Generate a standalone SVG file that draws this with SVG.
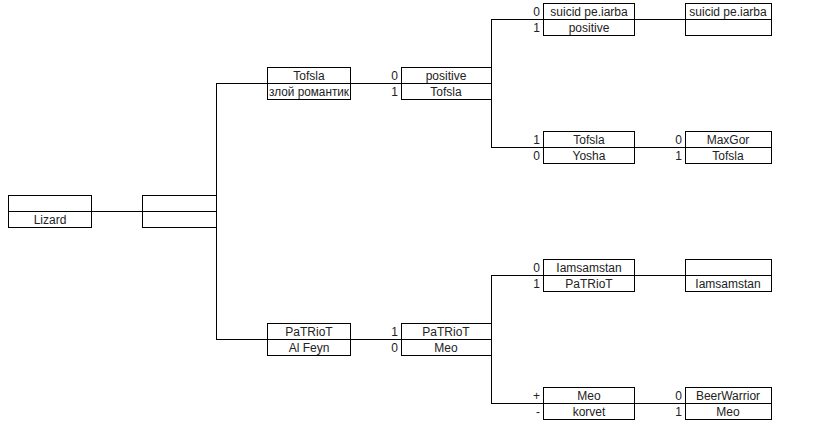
<svg xmlns="http://www.w3.org/2000/svg" width="813" height="429" viewBox="0 0 813 429">
<style>
.b{fill:#fff;stroke:#000;stroke-width:1}
.d{stroke:#000;stroke-width:1}
.c{fill:none;stroke:#000;stroke-width:1}
text{font-family:"Liberation Sans",Arial,sans-serif;font-size:12px;fill:#222}
.m{text-anchor:middle}
.r{text-anchor:end}
</style>
<rect width="813" height="429" fill="#fff"/>
<g id="connectors">
<path class="c" d="M91 211.5H142"/>
<path class="c" d="M216.5 83V339M216 83.5H267M216 339.5H267"/>
<path class="c" d="M350 83.5H401M350 339.5H401"/>
<path class="c" d="M491.5 19V147M491 19.5H543M491 147.5H543"/>
<path class="c" d="M491.5 275V403M491 275.5H543M491 403.5H543"/>
<path class="c" d="M634 19.5H685M634 147.5H685M634 275.5H685M634 403.5H685"/>
</g>
<g id="lizard">
<rect class="b" x="8.5" y="195.5" width="83" height="32"/><path class="d" d="M8 211.5H91"/>
<text class="m" x="50" y="224">Lizard</text>
</g>
<g id="root">
<rect class="b" x="142.5" y="195.5" width="74" height="32"/><path class="d" d="M142 211.5H216"/>
</g>
<g id="semi-top">
<rect class="b" x="267.5" y="67.5" width="83" height="32"/><path class="d" d="M267 83.5H350"/>
<text class="m" x="309" y="80">Tofsla</text>
<text class="m" x="309" y="96" textLength="80" lengthAdjust="spacingAndGlyphs">злой романтик</text>
</g>
<g id="semi-top-result">
<rect class="b" x="401.5" y="67.5" width="90" height="32"/><path class="d" d="M401 83.5H491"/>
<text class="r" x="398" y="80">0</text><text class="m" x="446" y="80">positive</text>
<text class="r" x="398" y="96">1</text><text class="m" x="446" y="96">Tofsla</text>
</g>
<g id="quarter-1">
<rect class="b" x="543.5" y="3.5" width="91" height="32"/><path class="d" d="M543 19.5H634"/>
<text class="r" x="540" y="16">0</text><text class="m" x="589" y="16">suicid pe.iarba</text>
<text class="r" x="540" y="32">1</text><text class="m" x="589" y="32">positive</text>
</g>
<g id="quarter-1-result">
<rect class="b" x="685.5" y="3.5" width="86" height="32"/><path class="d" d="M685 19.5H771"/>
<text class="m" x="728" y="16">suicid pe.iarba</text>
</g>
<g id="quarter-2">
<rect class="b" x="543.5" y="131.5" width="91" height="32"/><path class="d" d="M543 147.5H634"/>
<text class="r" x="540" y="144">1</text><text class="m" x="589" y="144">Tofsla</text>
<text class="r" x="540" y="160">0</text><text class="m" x="589" y="160">Yosha</text>
</g>
<g id="quarter-2-result">
<rect class="b" x="685.5" y="131.5" width="86" height="32"/><path class="d" d="M685 147.5H771"/>
<text class="r" x="682" y="144">0</text><text class="m" x="728" y="144">MaxGor</text>
<text class="r" x="682" y="160">1</text><text class="m" x="728" y="160">Tofsla</text>
</g>
<g id="semi-bottom">
<rect class="b" x="267.5" y="323.5" width="83" height="32"/><path class="d" d="M267 339.5H350"/>
<text class="m" x="309" y="336">PaTRioT</text>
<text class="m" x="309" y="352">Al Feyn</text>
</g>
<g id="semi-bottom-result">
<rect class="b" x="401.5" y="323.5" width="90" height="32"/><path class="d" d="M401 339.5H491"/>
<text class="r" x="398" y="336">1</text><text class="m" x="446" y="336">PaTRioT</text>
<text class="r" x="398" y="352">0</text><text class="m" x="446" y="352">Meo</text>
</g>
<g id="quarter-3">
<rect class="b" x="543.5" y="259.5" width="91" height="32"/><path class="d" d="M543 275.5H634"/>
<text class="r" x="540" y="272">0</text><text class="m" x="589" y="272">Iamsamstan</text>
<text class="r" x="540" y="288">1</text><text class="m" x="589" y="288">PaTRioT</text>
</g>
<g id="quarter-3-result">
<rect class="b" x="685.5" y="259.5" width="86" height="32"/><path class="d" d="M685 275.5H771"/>
<text class="m" x="728" y="288">Iamsamstan</text>
</g>
<g id="quarter-4">
<rect class="b" x="543.5" y="387.5" width="91" height="32"/><path class="d" d="M543 403.5H634"/>
<text class="r" x="540" y="400">+</text><text class="m" x="589" y="400">Meo</text>
<text class="r" x="540" y="416">-</text><text class="m" x="589" y="416">korvet</text>
</g>
<g id="quarter-4-result">
<rect class="b" x="685.5" y="387.5" width="86" height="32"/><path class="d" d="M685 403.5H771"/>
<text class="r" x="682" y="400">0</text><text class="m" x="728" y="400">BeerWarrior</text>
<text class="r" x="682" y="416">1</text><text class="m" x="728" y="416">Meo</text>
</g>
</svg>
